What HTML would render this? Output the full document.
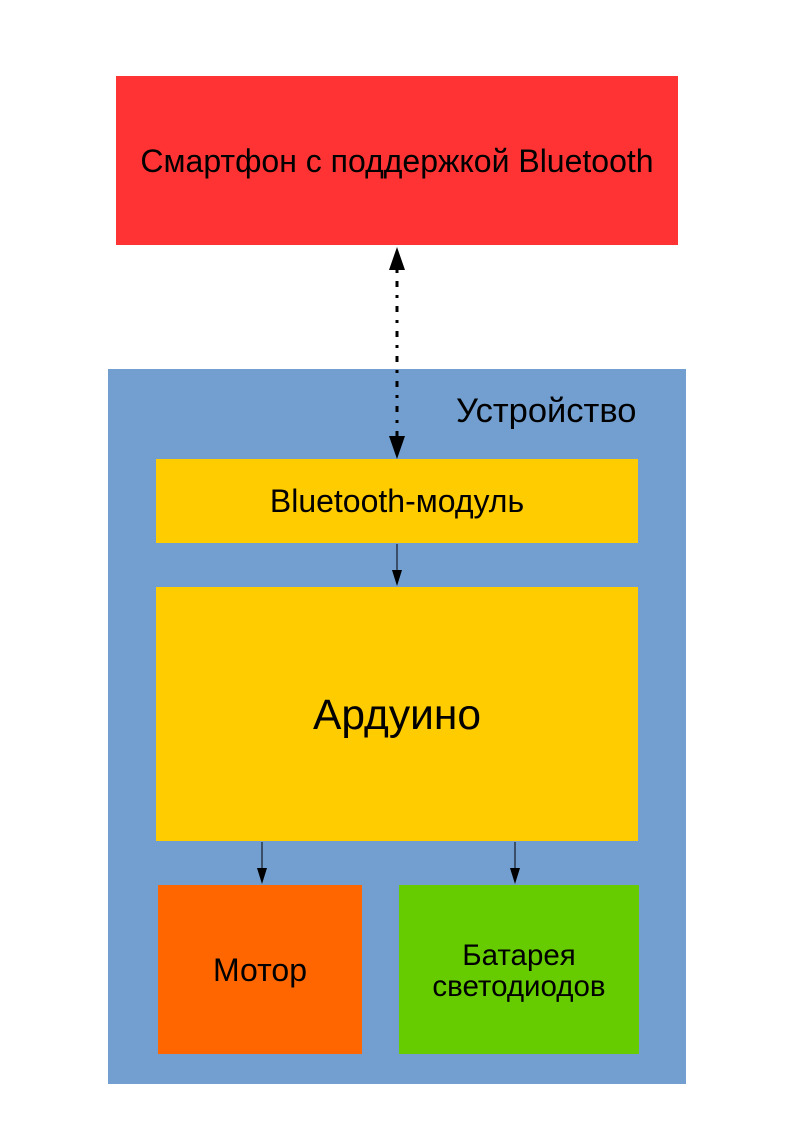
<!DOCTYPE html>
<html><head><meta charset="utf-8"><style>
body{margin:0;width:794px;height:1123px;background:#fff;position:relative;overflow:hidden;font-family:"Liberation Sans","DejaVu Sans",sans-serif;color:#000}
.b{position:absolute;display:flex;align-items:center;justify-content:center;text-align:center}
</style></head><body>
<div class="b" style="left:116px;top:76px;width:562px;height:169px;background:#ff3333;font-size:32px"><span style="position:relative;top:1px">Смартфон с поддержкой Bluetooth</span></div>
<div class="b" style="left:108px;top:369px;width:578px;height:715px;background:#729fcf"></div>
<div style="position:absolute;left:456px;top:392px;font-size:34.5px">Устройство</div>
<div class="b" style="left:156px;top:459px;width:482px;height:84px;background:#ffcc00;font-size:32px">Bluetooth-модуль</div>
<div class="b" style="left:156px;top:587px;width:482px;height:254px;background:#ffcc00;font-size:42.5px"><span style="position:relative;top:2px">Ардуино</span></div>
<div class="b" style="left:158px;top:885px;width:204px;height:169px;background:#ff6600;font-size:32px"><span style="position:relative;top:1px">Мотор</span></div>
<div class="b" style="left:399px;top:885px;width:240px;height:169px;background:#66cc00;font-size:29.5px;line-height:31px"><span style="position:relative;top:1px">Батарея<br>светодиодов</span></div>
<svg width="794" height="1123" style="position:absolute;left:0;top:0">
<line x1="397" y1="270" x2="397" y2="436" stroke="#000" stroke-width="3" stroke-dasharray="3,8,6,8"/>
<polygon points="397,247 389,270 405,270" fill="#000"/>
<polygon points="397,459 389,436 405,436" fill="#000"/>
<line x1="397" y1="544" x2="397" y2="572" stroke="#000" stroke-width="1"/>
<polygon points="397,586 392,570 402,570" fill="#000"/>
<line x1="262" y1="842" x2="262" y2="870" stroke="#000" stroke-width="1"/>
<polygon points="262,884 257,868 267,868" fill="#000"/>
<line x1="515" y1="842" x2="515" y2="870" stroke="#000" stroke-width="1"/>
<polygon points="515,884 510,868 520,868" fill="#000"/>
</svg>
</body></html>
